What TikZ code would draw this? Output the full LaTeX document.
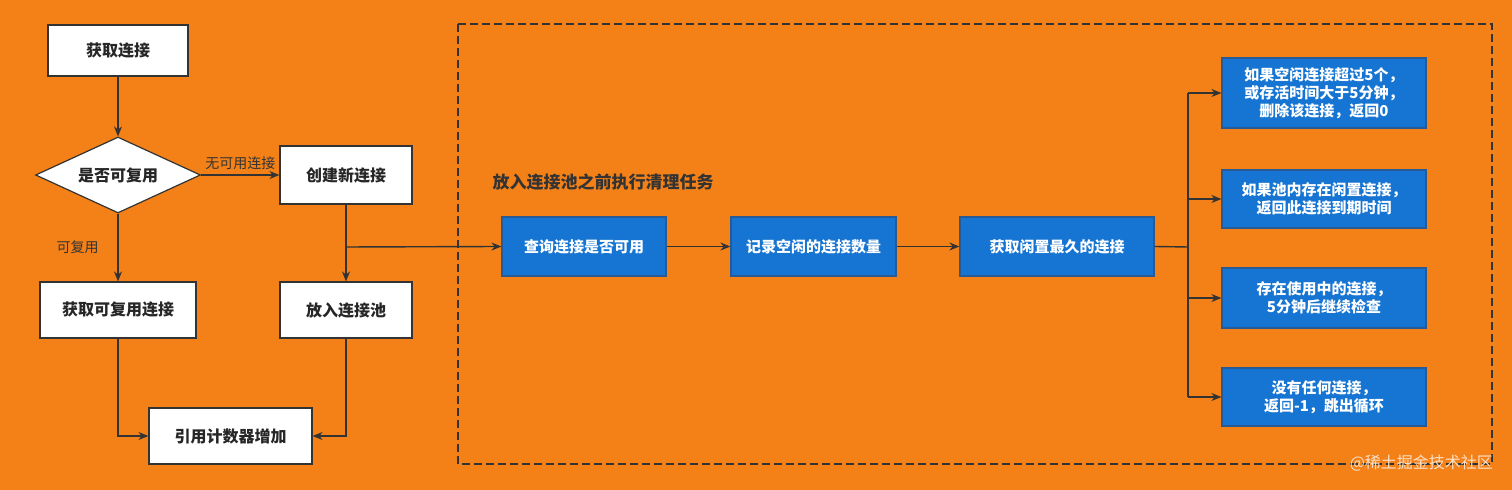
\documentclass[tikz,border=0pt]{standalone}
\usepackage{fontspec}
\setmainfont{Noto Sans CJK SC}
\usetikzlibrary{shapes.geometric,arrows.meta}
\definecolor{bg}{RGB}{244,129,24}
\definecolor{bl}{RGB}{22,117,210}
\definecolor{bld}{RGB}{40,90,150}
\tikzset{
 wbox/.style={draw=black!80,fill=white,line width=0.6pt,font=\fontsize{8}{9}\selectfont\bfseries,text=black!85},
 bbox/.style={draw=bld,fill=bl,line width=0.6pt,font=\fontsize{7.5}{9}\selectfont\bfseries,text=white,align=center},
 ln/.style={draw=black!80,line width=0.7pt},
 ar/.style={ln,-{Stealth[length=5pt,width=4pt]}},
 lab/.style={font=\fontsize{7}{8}\selectfont,text=black!80}
}
\begin{document}
\begin{tikzpicture}[x=0.5pt,y=-0.5pt]
\fill[bg] (0,0) rectangle (1512,490);
\useasboundingbox (0,0) rectangle (1512,490);
\def\bx#1#2#3#4#5#6{\node[#6,minimum width=#3*0.5pt-#1*0.5pt,minimum height=#4*0.5pt-#2*0.5pt,inner sep=0pt] (#5) at ({(#1+#3)/2},{(#2+#4)/2})}
\bx{48}{25}{188}{76}{a}{wbox} {获取连接};
\node[wbox,diamond,minimum width=82.5pt,minimum height=38pt,inner sep=0pt,aspect=2.2] (d) at (118,175) {是否可复用};
\bx{280}{146}{412}{204}{c}{wbox} {创建新连接};
\bx{40}{282}{196}{338}{r}{wbox} {获取可复用连接};
\bx{280}{282}{412}{338}{p}{wbox} {放入连接池};
\bx{149}{408}{312}{464}{i}{wbox} {引用计数器增加};
\draw[ln,dashed,dash pattern=on 4pt off 2pt] (458,24) rectangle (1492,464);
\node[font=\fontsize{8.5}{9}\selectfont\bfseries,text=black!80] (t) at (603,182) {放入连接池之前执行清理任务};
\bx{502}{217}{666}{276}{q}{bbox} {查询连接是否可用};
\bx{731}{217}{896}{276}{k}{bbox} {记录空闲的连接数量};
\bx{960}{217}{1154}{276}{g}{bbox} {获取闲置最久的连接};
\bx{1222}{58}{1426}{128}{e1}{bbox} {如果空闲连接超过5个，\\或存活时间大于5分钟，\\删除该连接，返回0};
\bx{1222}{170}{1426}{228}{e2}{bbox} {如果池内存在闲置连接，\\返回此连接到期时间};
\bx{1222}{268}{1426}{328}{e3}{bbox} {存在使用中的连接，\\5分钟后继续检查};
\bx{1222}{368}{1426}{426}{e4}{bbox} {没有任何连接，\\返回-1，跳出循环};
\draw[ar] (a) -- (d);
\draw[ar] (d.east) -- node[lab,above=-1pt] {无可用连接} (c.west);
\draw[ar] (d.south) -- node[lab,left=6pt,pos=0.5] {可复用} (r.north);
\draw[ar] (c.south) -- (p.north);
\coordinate (j) at (346,247);
\draw[ar] (j) -- (q.west);
\draw[ar] (r.south) |- (i.west);
\draw[ar] (p.south) |- (i.east);
\draw[ar] (q) -- (k);
\draw[ar] (k) -- (g);
\coordinate (v) at (1188,247);
\draw[ln] (g.east) -- (v);
\draw[ln] (1188,93) -- (1188,397);
\draw[ar] (1188,93) -- (e1.west);
\draw[ar] (1188,199) -- (e2.west);
\draw[ar] (1188,298) -- (e3.west);
\draw[ar] (1188,397) -- (e4.west);
\node[font=\fontsize{8}{9}\selectfont,text=white!75!bg,anchor=east] (w) at (1500,463) {@稀土掘金技术社区};
\end{tikzpicture}
\end{document}
